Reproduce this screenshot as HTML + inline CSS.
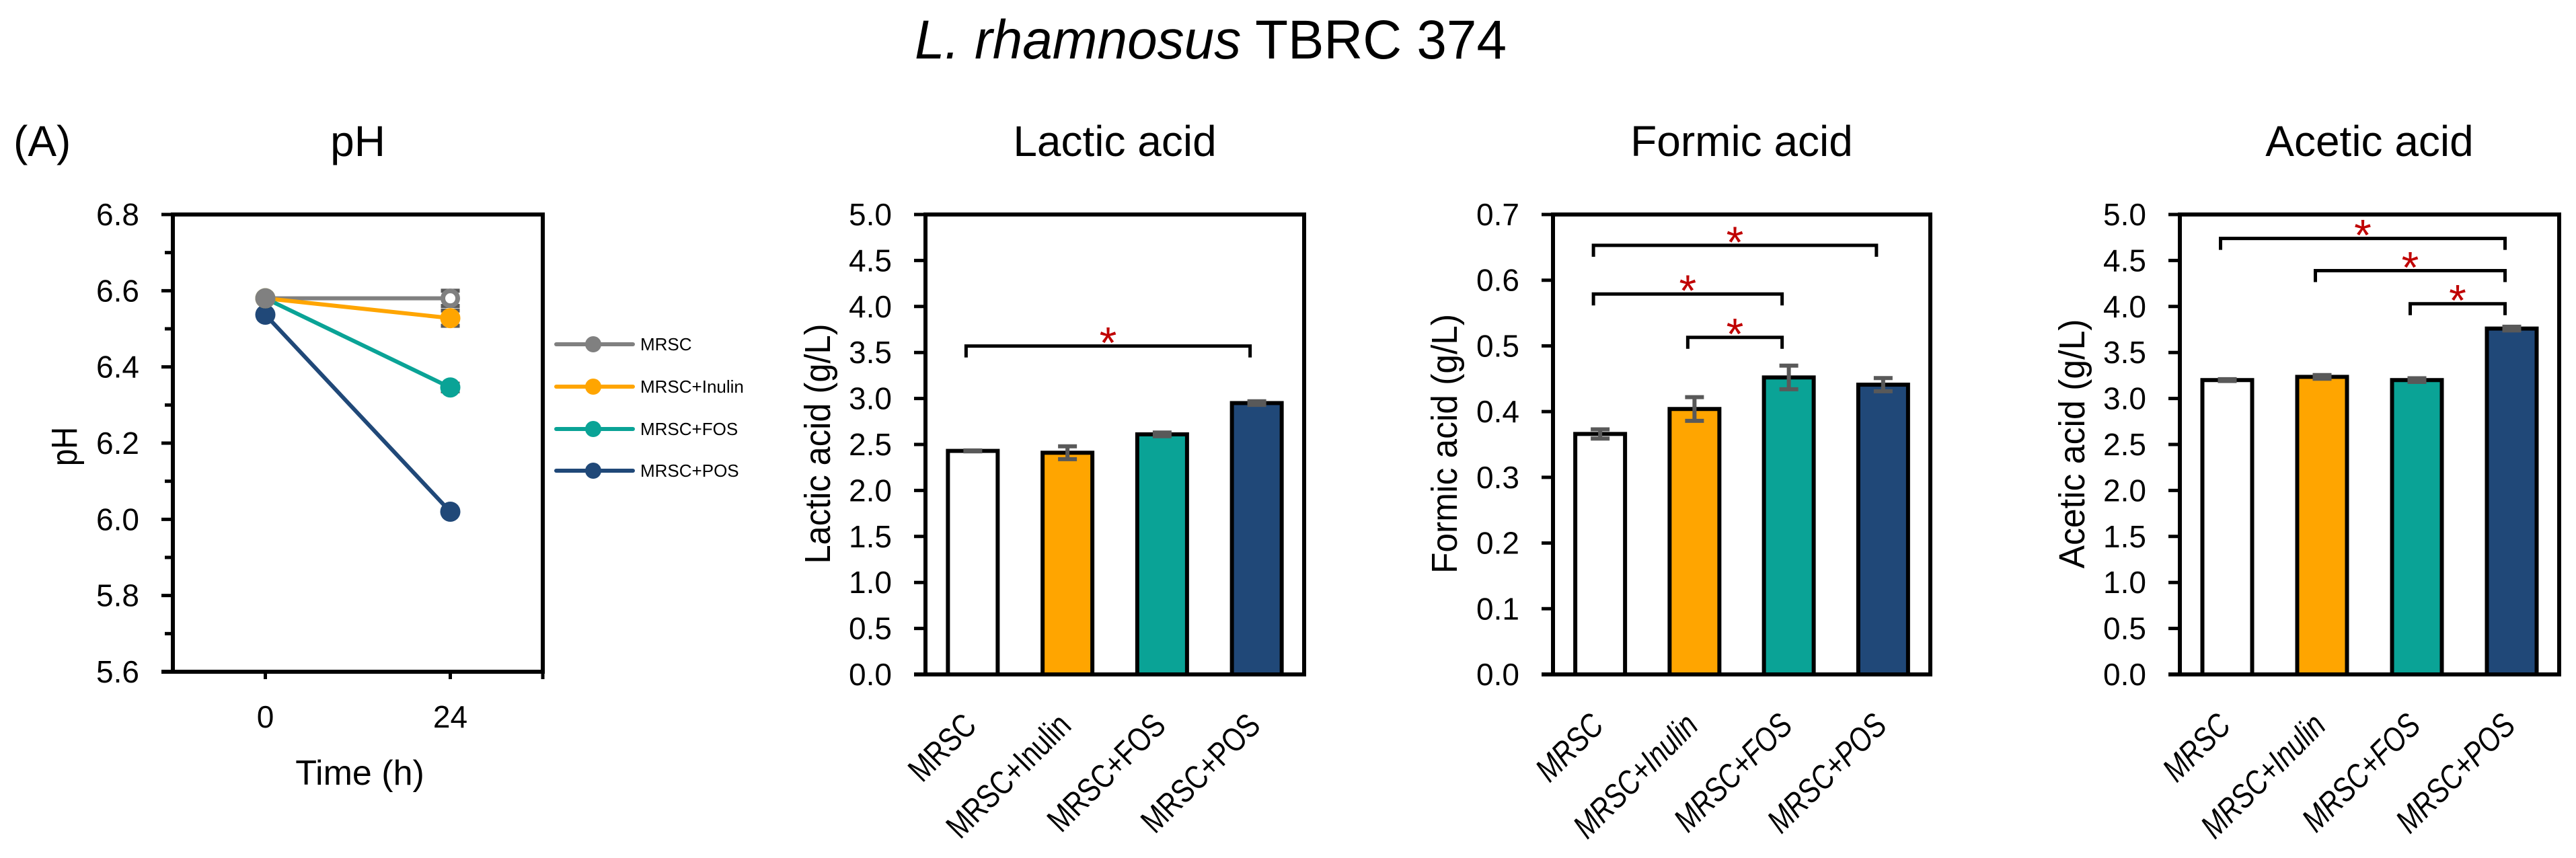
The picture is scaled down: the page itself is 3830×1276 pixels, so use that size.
<!DOCTYPE html>
<html><head><meta charset="utf-8"><style>
html,body{margin:0;padding:0;background:#fff;}
svg{display:block;font-family:"Liberation Sans",sans-serif;}
</style></head><body>
<svg id="fig" width="3830" height="1276" viewBox="0 0 3830 1276" xmlns="http://www.w3.org/2000/svg">
<rect x="0" y="0" width="3830" height="1276" fill="#fff"/>
<text x="1800" y="87" font-size="82" text-anchor="middle" textLength="880" lengthAdjust="spacingAndGlyphs"><tspan font-style="italic">L. rhamnosus</tspan> TBRC 374</text>
<text x="20" y="232" font-size="64">(A)</text>
</svg>
<script>
const groups = ["MRSC","MRSC+Inulin","MRSC+FOS","MRSC+POS"];
const barColors = ["#ffffff","#FFA500","#0AA396","#204878"];
const lineColors = ["#808080","#FFA500","#0AA396","#204878"];

const phTimes = ["0","24"];
const phMRSC = [6.58, 6.58];
const phInulin = [6.58, 6.528];
const phFOS = [6.58, 6.346];
const phPOS = [6.537, 6.02];
const phErr = [[0,0.02],[0,0.02],[0,0.01],[0,0.005]];
const phTicks = ["5.6","5.8","6.0","6.2","6.4","6.6","6.8"];

const lacticValues = [2.43, 2.41, 2.61, 2.95];
const lacticErrors = [0.005, 0.07, 0.02, 0.02];
const lacticTicks = ["0.0","0.5","1.0","1.5","2.0","2.5","3.0","3.5","4.0","4.5","5.0"];
const lacticSig = [[0,3,3.57]];

const formicValues = [0.366, 0.404, 0.452, 0.441];
const formicErrors = [0.007, 0.018, 0.018, 0.01];
const formicTicks = ["0.0","0.1","0.2","0.3","0.4","0.5","0.6","0.7"];
const formicSig = [[0,3,0.653],[0,2,0.579],[1,2,0.513]];

const aceticValues = [3.20, 3.235, 3.20, 3.76];
const aceticErrors = [0.01, 0.02, 0.02, 0.02];
const aceticTicks = ["0.0","0.5","1.0","1.5","2.0","2.5","3.0","3.5","4.0","4.5","5.0"];
const aceticSig = [[0,3,4.74],[1,3,4.39],[2,3,4.03]];

const NS = "http://www.w3.org/2000/svg";
const svg = document.getElementById("fig");
function mk(tag, attrs, parent){
  const e = document.createElementNS(NS, tag);
  for (const k in attrs) e.setAttribute(k, attrs[k]);
  (parent||svg).appendChild(e);
  return e;
}
function scaleY(p, v){ return p.bottom - (v - p.min)/(p.max - p.min)*(p.bottom - p.top); }

function frame(p, g){
  const r = mk("rect", {x:p.left, y:p.top, width:p.right-p.left, height:p.bottom-p.top, fill:"none", stroke:"#000", "stroke-width":6}, g);
  
  
}
function yTicks(p, labels, g, minor){
  const n = labels.length;
  for (let i=0;i<n;i++){
    const v = p.min + i*(p.max-p.min)/(n-1);
    const y = scaleY(p, v);
    const t = mk("line", {x1:p.left-17, x2:p.left, y1:y, y2:y, stroke:"#000", "stroke-width":5}, g);
    
    
    const tx = mk("text", {x:p.left-50, y:y+16, "font-size":46, "text-anchor":"end"}, g);
    tx.textContent = labels[i];
    
    
    if (minor && i<n-1){
      const ym = scaleY(p, v + (p.max-p.min)/(n-1)/2);
      const m = mk("line", {x1:p.left-12, x2:p.left, y1:ym, y2:ym, stroke:"#000", "stroke-width":5}, g);
      
      
    }
  }
}
function title(x, txt, g){
  const t = mk("text", {x:x, y:232, "font-size":64, "text-anchor":"middle"}, g);
  t.textContent = txt;
  
  
}
function yTitle(x, y, txt, len, g){
  const t = mk("text", {x:0, y:0, "font-size":54, "text-anchor":"middle", transform:"translate("+x+","+y+") rotate(-90)", textLength:len, lengthAdjust:"spacingAndGlyphs"}, g);
  t.textContent = txt;
  
  
}

function barChart(name, p, values, errors, ticks, sig, ytitle, ytx, ylen, italic){
  const g = mk("g", {});
  
  
  const cw = (p.right - p.left)/groups.length;
  const cx = i => p.left + (i+0.5)*cw;
  title((p.left+p.right)/2, p.title, g);
  yTitle(ytx, 660, ytitle, ylen, g);
  const ax = mk("line", {x1:p.left-17, x2:p.right, y1:p.bottom, y2:p.bottom, stroke:"#000", "stroke-width":6}, g);
  
  
  for (let i=0;i<groups.length;i++){
    const bw = 74;
    const yv = scaleY(p, values[i]);
    const b = mk("rect", {x:cx(i)-bw/2, y:yv, width:bw, height:p.bottom-yv, fill:barColors[i], stroke:"#000", "stroke-width":6}, g);
    
    
    const y1 = scaleY(p, values[i]+errors[i]), y2 = scaleY(p, values[i]-errors[i]);
    const e = mk("path", {d:"M"+cx(i)+","+y1+"V"+y2+"M"+(cx(i)-14)+","+y1+"h28M"+(cx(i)-14)+","+y2+"h28", stroke:"#595959", "stroke-width":6, fill:"none"}, g);
    
    
    const ax2 = cx(i)+8, ay = 1082;
    const lb = mk("text", {x:ax2, y:ay, "font-size":50, "text-anchor":"end", transform:"rotate(-45 "+ax2+" "+ay+")", "font-style": italic ? "italic" : "normal"}, g);
    lb.textContent = groups[i];
    
    
    const L = lb.getComputedTextLength();
    if (L > 0){
      lb.setAttribute('textLength', (L*0.8).toFixed(1));
      lb.setAttribute('lengthAdjust', 'spacingAndGlyphs');
    }
  }
  for (const s of sig){
    const x1 = cx(s[0])-10, x2 = cx(s[1])-10, y = scaleY(p, s[2]);
    const br = mk("path", {d:"M"+x1+","+(y+17)+"V"+y+"H"+x2+"V"+(y+17), stroke:"#000", "stroke-width":5, fill:"none"}, g);
    
    
    const st = mk("text", {x:(x1+x2)/2, y:y+18, "font-size":66, "text-anchor":"middle", fill:"#C00000"}, g);
    st.textContent = "*";
    
    
  }
  frame(p, g);
  yTicks(p, ticks, g, false);
}

barChart("lactic", {left:1376,right:1939,top:319,bottom:1003,min:0,max:5,title:"Lactic acid"}, lacticValues, lacticErrors, lacticTicks, lacticSig, "Lactic acid (g/L)", 1234, 357, false);
barChart("formic", {left:2309,right:2870,top:319,bottom:1003,min:0,max:0.7,title:"Formic acid"}, formicValues, formicErrors, formicTicks, formicSig, "Formic acid (g/L)", 2166, 386, true);
barChart("acetic", {left:3241,right:3805,top:319,bottom:1003,min:0,max:5,title:"Acetic acid"}, aceticValues, aceticErrors, aceticTicks, aceticSig, "Acetic acid (g/L)", 3099, 371, true);

// pH chart
(function(){
  const p = {left:257,right:807,top:319,bottom:999,min:5.6,max:6.8};
  const g = mk("g", {});
  
  
  title(532, "pH", g);
  yTitle(114, 664, "pH", 58, g);
  const ax = mk("line", {x1:p.left-17, x2:p.right, y1:p.bottom, y2:p.bottom, stroke:"#000", "stroke-width":6}, g);
  
  
  const w = p.right - p.left;
  const tx = i => p.left + w*(i*2+1)/4;
  for (let i=0;i<phTimes.length;i++){
    const t = mk("line", {x1:tx(i), x2:tx(i), y1:p.bottom, y2:p.bottom+11, stroke:"#000", "stroke-width":5}, g);
    
    
    const l = mk("text", {x:tx(i), y:1082, "font-size":46, "text-anchor":"middle"}, g);
    l.textContent = phTimes[i];
    
    
  }
  const et = mk("line", {x1:p.right, x2:p.right, y1:p.bottom, y2:p.bottom+11, stroke:"#000", "stroke-width":5}, g);
  
  
  const xt = mk("text", {x:535, y:1167, "font-size":52, "text-anchor":"middle"}, g);
  xt.textContent = "Time (h)";
  
  
  frame(p, g);
  yTicks(p, phTicks, g, true);
  const series = [phMRSC, phInulin, phFOS, phPOS];
  for (let s=0;s<series.length;s++){
    const v = series[s];
    for (let i=0;i<v.length;i++){
      if (phErr[s][i] > 0){
        const y1 = scaleY(p, v[i]+phErr[s][i]), y2 = scaleY(p, v[i]-phErr[s][i]);
        const e = mk("path", {d:"M"+tx(i)+","+y1+"V"+y2+"M"+(tx(i)-14)+","+y1+"h28M"+(tx(i)-14)+","+y2+"h28", stroke:"#595959", "stroke-width":6, fill:"none"}, g);
        
        
      }
    }
    const d = v.map((val,i)=>(i?"L":"M")+tx(i)+","+scaleY(p,val)).join("");
    const ln = mk("path", {d:d, stroke:lineColors[s], "stroke-width":6, fill:"none"}, g);
    
    
  }
  for (let s=series.length-1;s>=0;s--){
    const v = series[s];
    for (let i=0;i<v.length;i++){
      const hollow = (s===0 && i===1);
      const c = mk("circle", {cx:tx(i), cy:scaleY(p,v[i]), r: hollow?11:15, fill: hollow?"#fff":lineColors[s], stroke: hollow?lineColors[s]:"none", "stroke-width":7}, g);
      
      
    }
  }
  const ly = [512, 575, 638, 700];
  for (let s=0;s<groups.length;s++){
    const lg = mk("g", {}, g);
    
    
    mk("line", {x1:827, x2:941, y1:ly[s], y2:ly[s], stroke:lineColors[s], "stroke-width":6, "stroke-linecap":"round"}, lg);
    mk("circle", {cx:882, cy:ly[s], r:12, fill:lineColors[s]}, lg);
    const t = mk("text", {x:952, y:ly[s]+9, "font-size":26}, lg);
    t.textContent = groups[s];
  }
})();
</script>
</body></html>
